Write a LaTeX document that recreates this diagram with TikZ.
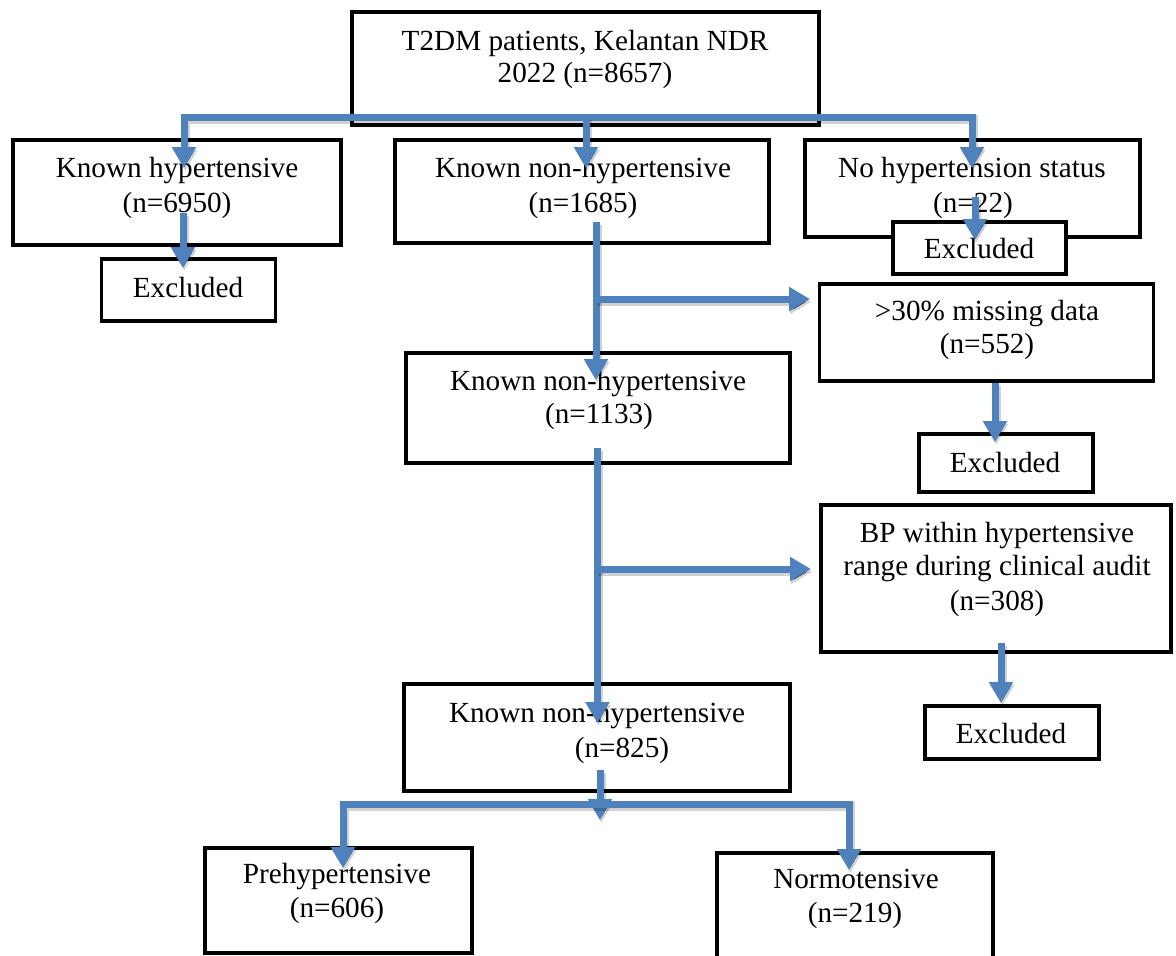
\documentclass[tikz,border=0pt]{standalone}
\usepackage{fontspec}
\setmainfont{Liberation Serif}
\usetikzlibrary{arrows.meta}
\definecolor{flowblue}{RGB}{79,129,189}
\begin{document}
\begin{tikzpicture}[x=0.5pt,y=-0.5pt,
  bx/.style 2 args={draw=black, line width=1.8pt, fill=white, inner sep=0pt, outer sep=0pt,
    minimum width=#1*0.5pt, minimum height=#2*0.5pt},
  txt/.style={inner sep=0pt, anchor=base, font=\fontsize{14.6pt}{17.5pt}\selectfont},
  shade/.style={preaction={draw=black, draw opacity=0.18, line width=4.5pt,
    transform canvas={shift={(0.6pt,-1.4pt)}}}},
  flow/.style={shade, draw=flowblue, line width=3.5pt, line join=miter,
    -{Triangle[width=11.5pt,length=10.5pt]}},
  flowtwo/.style={shade, draw=flowblue, line width=3.5pt, line join=miter,
    {Triangle[width=11.5pt,length=10.5pt]}-{Triangle[width=11.5pt,length=10.5pt]}}]
\useasboundingbox (0,0) rectangle (1176,955);
\clip (0,0) rectangle (1176,955);

% boxes
\node[bx={467}{113}] (top)  at (585.5,68.5) {};
\node[bx={328}{105}] (kh)   at (177,192.5) {};
\node[bx={374}{103}] (knha) at (582,191.5) {};
\node[bx={335}{97}]  (nhs)  at (972.5,188.5) {};
\node[bx={174}{62}]  (exa)  at (188.5,290) {};
\node[bx={173}{52}]  (exb)  at (979.5,248) {};
\node[bx={334}{97}]  (miss) at (986.5,332.5) {};
\node[bx={384}{110}] (knhb) at (598,408) {};
\node[bx={174}{58}]  (exc)  at (1006,463) {};
\node[bx={350}{147}] (bp)   at (996,578.5) {};
\node[bx={174}{53}]  (exd)  at (1012,732.5) {};
\node[bx={386}{107}] (knhc) at (597,737.5) {};
\node[bx={267}{105}] (pre)  at (338.5,900.5) {};
\node[bx={276}{147}] (nor)  at (855,926.5) {};

% texts
\node[txt] (topa) at (585,50) {T2DM patients, Kelantan NDR};
\node[txt] (topb) at (585,82) {2022 (n=8657)};
\node[txt] (kha) at (177,177) {Known hypertensive};
\node[txt] (khb) at (177,212) {(n=6950)};
\node[txt] (knhaa) at (583,177) {Known non-hypertensive};
\node[txt] (knhab) at (583,212) {(n=1685)};
\node[txt] (nhsa) at (972,177) {No hypertension status};
\node[txt] (nhsb) at (973,212) {(n=22)};
\node[txt] (exat) at (188,297) {Excluded};
\node[txt] (exbt) at (979,258) {Excluded};
\node[txt] (missa) at (987,320) {>30\% missing data};
\node[txt] (missb) at (987,353) {(n=552)};
\node[txt] (knhba) at (598,390) {Known non-hypertensive};
\node[txt] (knhbb) at (599,423) {(n=1133)};
\node[txt] (exct) at (1005,472) {Excluded};
\node[txt] (bpa) at (997,542) {BP within hypertensive};
\node[txt] (bpb) at (997,575) {range during clinical audit};
\node[txt] (bpc) at (997,610) {(n=308)};
\node[txt] (exdt) at (1011,743) {Excluded};
\node[txt] (knhca) at (597,722) {Known non-hypertensive};
\node[txt] (knhcb) at (622,757) {(n=825)};
\node[txt] (prea) at (337,883) {Prehypertensive};
\node[txt] (preb) at (337,917) {(n=606)};
\node[txt] (nora) at (856,888) {Normotensive};
\node[txt] (norb) at (855,922) {(n=219)};

% connector points
\coordinate (topsplit) at (586,117);
\coordinate (khin) at (184,168);
\coordinate (knhain) at (586,168);
\coordinate (nhsin) at (972,168);
\coordinate (khout) at (183,213);
\coordinate (exain) at (183,268);
\coordinate (nhsout) at (975,197);
\coordinate (exbin) at (975,240);
\coordinate (knhaout) at (596,222);
\coordinate (knhbin) at (596,380);
\coordinate (splita) at (596,299);
\coordinate (missin) at (810,299);
\coordinate (missout) at (995,383);
\coordinate (excin) at (995,442);
\coordinate (knhbout) at (597.5,448);
\coordinate (knhcin) at (597.5,723);
\coordinate (splitb) at (597.5,569);
\coordinate (bpin) at (811,569);
\coordinate (bpout) at (1001,643);
\coordinate (exdin) at (1001,703);
\coordinate (knhcout) at (600,770);
\coordinate (knhcend) at (600,820);
\coordinate (barmid) at (600,804);
\coordinate (prein) at (343,868);
\coordinate (norin) at (849,870);

% connectors
\draw[flowtwo] (khin) -- (khin |- topsplit) -- (nhsin |- topsplit) -- (nhsin);
\draw[flow] (topsplit) -- (knhain);
\draw[flow] (khout) -- (exain);
\draw[flow] (nhsout) -- (exbin);
\draw[flow] (knhaout) -- (knhbin);
\draw[flow] (splita) -- (missin);
\draw[flow] (missout) -- (excin);
\draw[flow] (knhbout) -- (knhcin);
\draw[flow] (splitb) -- (bpin);
\draw[flow] (bpout) -- (exdin);
\draw[flow] (knhcout) -- (knhcend);
\draw[flowtwo] (prein) -- (prein |- barmid) -- (norin |- barmid) -- (norin);
\end{tikzpicture}
\end{document}
